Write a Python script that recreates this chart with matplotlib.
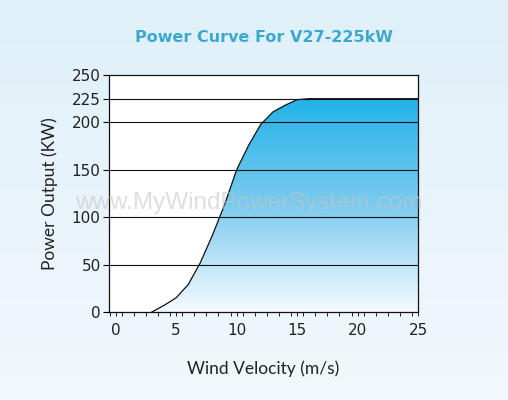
import numpy as np
import matplotlib
matplotlib.use("Agg")
import matplotlib.pyplot as plt
from matplotlib.colors import LinearSegmentedColormap

# valores (m/s -> kW)
wind_speed = [3, 4, 5, 6, 7, 8, 9, 10, 11, 12, 13, 14, 15, 16, 20, 25]
power = [0, 7, 15, 29, 52, 81, 113, 150, 176, 198, 211, 218, 224, 225, 225, 225]

y_ticks = [0, 50, 100, 150, 200, 225, 250]
x_ticks = [0, 5, 10, 15, 20, 25]
grid_levels = [50, 100, 150, 200, 225]

fig = plt.figure(figsize=(5.08, 4.0), dpi=100)

# fondo degradado de la figura
bg = fig.add_axes([0, 0, 1, 1], zorder=-10)
bg_cmap = LinearSegmentedColormap.from_list("bg", ["#f2f8fc", "#dff0f9"])
bg.imshow(np.linspace(0, 1, 256).reshape(-1, 1), cmap=bg_cmap, aspect="auto",
          origin="lower", extent=[0, 1, 0, 1])
bg.axis("off")

ax = fig.add_axes([0.2146, 0.22, 0.6083, 0.5925])
ax.set_facecolor("white")

# relleno con degradado bajo la curva
fill_cmap = LinearSegmentedColormap.from_list("fill", ["#f6fbfe", "#7ccbef", "#22b2e8"])
poly = ax.fill_between(wind_speed, power, 0, color="none")
img = ax.imshow(np.linspace(0, 1, 256).reshape(-1, 1), cmap=fill_cmap, aspect="auto",
                origin="lower", extent=[0, 25, 0, 225], zorder=1)
img.set_clip_path(poly.get_paths()[0], transform=ax.transData)
ax.set_xlim(-0.55, 25)
ax.set_ylim(0, 250)

for g in grid_levels:
    ax.axhline(g, color="#111111", lw=0.8, zorder=2)
ax.plot(wind_speed, power, color="#111111", lw=0.9, zorder=3)

ax.set_yticks(y_ticks)
ax.set_xticks(x_ticks)
ax.set_xticks(np.arange(-0.5, 25.5, 1), minor=True)
ax.tick_params(axis="y", direction="out", length=4, width=0.8, labelsize=11,
               labelcolor="#222222", pad=2)
ax.tick_params(axis="x", which="both", direction="out", length=3, width=0.6,
               labelsize=11, labelcolor="#222222", pad=5)
for s in ax.spines.values():
    s.set_linewidth(0.9)
    s.set_color("#111111")

ax.set_xlabel("Wind Velocity (m/s)", fontsize=12.5, family="Lato", color="#222222",
              labelpad=16)
ax.set_ylabel("Power Output (KW)", fontsize=12.5, family="Lato", color="#222222",
              labelpad=10)

fig.text(0.52, 0.905, "Power Curve For V27-225kW", ha="center", va="center",
         fontsize=11.5, fontweight="bold", color="#3aa8cf")

# marca de agua
fig.text(0.49, 0.492, "www.MyWindPowerSystem.com", ha="center", va="center",
         fontsize=17.5, family="Liberation Sans", color="#c4c4c4", alpha=0.55,
         zorder=20)

fig.savefig("out.png", dpi=100)
